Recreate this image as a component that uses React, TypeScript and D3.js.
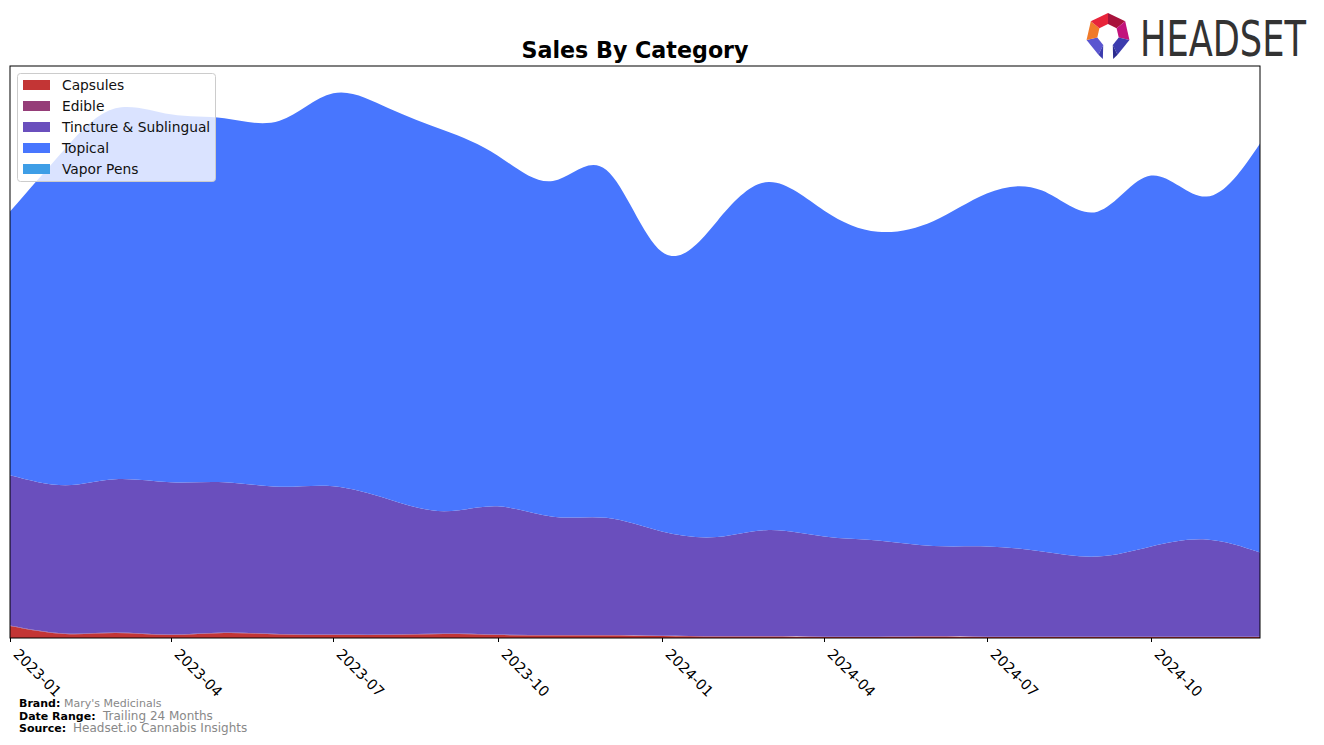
import * as d3 from "d3";
import { useEffect, useRef } from "react";

const months = [
  "2023-01", "2023-02", "2023-03", "2023-04", "2023-05", "2023-06",
  "2023-07", "2023-08", "2023-09", "2023-10", "2023-11", "2023-12",
  "2024-01", "2024-02", "2024-03", "2024-04", "2024-05", "2024-06",
  "2024-07", "2024-08", "2024-09", "2024-10", "2024-11", "2024-12",
];

const categories = ["Capsules", "Edible", "Tincture & Sublingual", "Topical", "Vapor Pens"];
const colors = ["#c33535", "#953d78", "#6a4fbd", "#4876fe", "#3e9ee6"];

const capsules = [12, 4, 5, 3, 5, 3.5, 3, 3, 4, 3, 2.5, 2.5, 2, 1.5, 1.5, 1, 1, 1.5, 1, 1, 1, 1, 1, 1];
const edible = [0.4, 0.4, 0.4, 0.4, 0.4, 0.4, 0.4, 0.4, 0.4, 0.4, 0.4, 0.4, 0.3, 0.3, 0.3, 0.3, 0.3, 0.3, 0.3, 0.3, 0.3, 0.3, 0.3, 0.3];
const tincture = [150, 148, 153, 152, 150, 147, 148, 135, 122, 128, 118, 117, 104, 99, 106, 100, 96, 90, 90, 85, 80, 90, 97, 84];
const topical = [263, 336, 370, 367, 363, 365, 392, 390, 380, 350, 335, 347, 279, 315, 347, 325, 308, 324, 352, 360, 344, 370, 342, 408];
const vaporPens = [0, 0, 0, 0, 0, 0, 0, 0, 0, 0, 0, 0, 0, 0, 0, 0, 0, 0, 0, 0, 0, 0, 0, 0];

const series = [capsules, edible, tincture, topical, vaporPens];

const W = 1324;
const H = 745;
const M = { left: 10, right: 1260, top: 66, bottom: 638 };

export default function App() {
  const ref = useRef<SVGSVGElement>(null);

  useEffect(() => {
    if (!ref.current) return;
    const svg = d3.select(ref.current);
    svg.selectAll("*").remove();

    const parse = d3.timeParse("%Y-%m");
    const dates = months.map(m => parse(m) as Date);
    const rows = months.map((_, i) => {
      const r: Record<string, number> = {};
      categories.forEach((c, k) => (r[c] = series[k][i]));
      return r;
    });
    const stacked = d3.stack<Record<string, number>>().keys(categories)(rows);
    const maxTotal = d3.max(stacked[stacked.length - 1], d => d[1]) as number;

    const x = d3.scaleTime().domain([dates[0], dates[dates.length - 1]]).range([M.left, M.right]);
    const y = d3.scaleLinear().domain([0, maxTotal * 1.05]).range([M.bottom, M.top]);

    const area = d3
      .area<d3.SeriesPoint<Record<string, number>>>()
      .x((_, i) => x(dates[i]))
      .y0(d => y(d[0]))
      .y1(d => y(d[1]))
      .curve(d3.curveNatural);

    svg
      .append("g")
      .selectAll("path")
      .data(stacked)
      .join("path")
      .attr("d", area)
      .attr("fill", (_, i) => colors[i]);

    // frame
    svg
      .append("rect")
      .attr("x", M.left)
      .attr("y", M.top)
      .attr("width", M.right - M.left)
      .attr("height", M.bottom - M.top)
      .attr("fill", "none")
      .attr("stroke", "#000")
      .attr("stroke-width", 1);

    // x ticks
    const ticks = x.ticks(d3.timeMonth.every(3) as d3.TimeInterval);
    const fmt = d3.timeFormat("%Y-%m");
    const tg = svg.append("g");
    ticks.forEach(t => {
      const tx = Math.round(x(t)) + 0.5;
      tg.append("line").attr("x1", tx).attr("x2", tx).attr("y1", M.bottom).attr("y2", M.bottom + 4).attr("stroke", "#000");
      tg.append("text")
        .attr("transform", `translate(${tx + 2},${M.bottom + 17}) rotate(45)`)
        .attr("font-family", "DejaVu Sans")
        .attr("font-size", 14.5)
        .attr("fill", "#000")
        .text(fmt(t));
    });

    // title
    svg
      .append("text")
      .attr("x", (M.left + M.right) / 2)
      .attr("y", 58)
      .attr("text-anchor", "middle")
      .attr("font-family", "DejaVu Sans")
      .attr("font-weight", "bold")
      .attr("font-size", 22.2)
      .text("Sales By Category");

    // legend
    const lg = svg.append("g");
    lg.append("rect")
      .attr("x", 17.5)
      .attr("y", 73.5)
      .attr("width", 198)
      .attr("height", 108)
      .attr("rx", 3)
      .attr("fill", "rgba(255,255,255,0.8)")
      .attr("stroke", "#cccccc");
    categories.forEach((c, i) => {
      const cy = 85 + i * 21;
      lg.append("rect").attr("x", 23).attr("y", cy - 5).attr("width", 27).attr("height", 10).attr("fill", colors[i]);
      lg.append("text")
        .attr("x", 62)
        .attr("y", cy + 5)
        .attr("font-family", "DejaVu Sans")
        .attr("font-size", 13.8)
        .attr("fill", "#111")
        .text(c);
    });

    // footer
    const foot = [
      { label: "Brand:", value: "Mary's Medicinals", y: 707, vx: 64, vs: 11 },
      { label: "Date Range:", value: "Trailing 24 Months", y: 720, vx: 103, vs: 12 },
      { label: "Source:", value: "Headset.io Cannabis Insights", y: 732, vx: 73, vs: 12 },
    ];
    foot.forEach(f => {
      svg.append("text").attr("x", 19).attr("y", f.y).attr("font-family", "DejaVu Sans").attr("font-weight", "bold").attr("font-size", 11).text(f.label);
      svg.append("text").attr("x", f.vx).attr("y", f.y).attr("font-family", "DejaVu Sans").attr("font-size", f.vs).attr("fill", "#888").text(f.value);
    });

    // logo
    const logo = svg.append("g");
    const cx = 1108;
    const cyl = 35;
    const ro = 22;
    const ri = 11;
    const segColors = ["#5a55d0", "#f07a2a", "#e8243a", "#a8123c", "#c2137c", "#3c3cae"];
    const n = 7;
    const pt = (r: number, k: number) => {
      const a = Math.PI / 2 + (k + 0.5) * ((2 * Math.PI) / n);
      return [cx + r * Math.cos(a), cyl + r * Math.sin(a)];
    };
    for (let k = 0; k < 6; k++) {
      const p = [pt(ro, k), pt(ro, k + 1), pt(ri, k + 1), pt(ri, k)];
      logo.append("polygon").attr("points", p.map(q => q.join(",")).join(" ")).attr("fill", segColors[k]);
    }
    const l0 = pt(ro, 0);
    const l1 = pt(ri, 0);
    logo.append("polygon").attr("points", `${l0.join(",")} ${l1.join(",")} ${(l0[0] + l1[0]) / 2 + 2},${cyl + 24}`).attr("fill", "#3c3cae");
    const r0 = pt(ro, 6);
    const r1 = pt(ri, 6);
    logo.append("polygon").attr("points", `${r0.join(",")} ${r1.join(",")} ${(r0[0] + r1[0]) / 2 - 2},${cyl + 24}`).attr("fill", "#2c2c8e");
    const word = logo
      .append("text")
      .attr("font-family", "DejaVu Sans")
      .attr("font-size", 50)
      .attr("fill", "#333")
      .text("HEADSET");
    const wl = (word.node() as SVGTextElement).getComputedTextLength() || 240;
    word.attr("transform", `translate(1140,56) scale(${166 / wl},1)`);
  }, []);

  return <svg ref={ref} width={W} height={H} style={{ position: "fixed", left: 0, top: 0, background: "#fff" }} />;
}
